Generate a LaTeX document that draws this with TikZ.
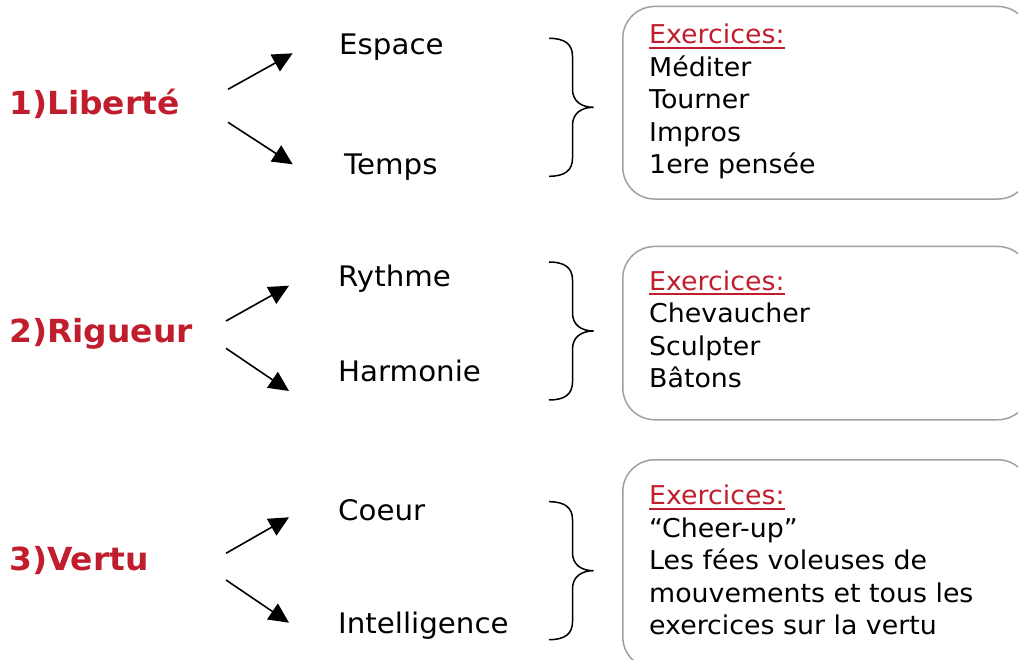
\documentclass[tikz,border=0pt]{standalone}
\usepackage{fontspec}
\setmainfont[FakeStretch=1.035]{DejaVu Sans}
\usetikzlibrary{arrows.meta}
\definecolor{exred}{RGB}{192,30,45}
\definecolor{boxgray}{RGB}{160,160,160}
\newcommand{\exhead}{\rule{0pt}{25pt}\textcolor{exred}{\setbox0\hbox{Exercices:}\rlap{\rule[-5pt]{\wd0}{1.8pt}}\box0}}
\begin{document}
\begin{tikzpicture}[x=1pt,y=-1pt,
  titre/.style={anchor=base west, inner sep=0pt, text=exred, font=\fontsize{31.8}{38}\selectfont\bfseries},
  mot/.style={anchor=base west, inner sep=0pt, font=\fontsize{28.3}{34}\selectfont},
  liste/.style={anchor=north west, inner sep=0pt, align=left, font=\fontsize{25.9}{32.6}\selectfont},
  exbox/.style={draw=boxgray, line width=1.5pt, rounded corners=32pt, anchor=north west, minimum width=407pt, inner sep=0pt},
  fleche/.style={-{Triangle[length=20pt,width=19pt]}, line width=1.6pt},
  accolade/.style={line width=1.5pt}]
\useasboundingbox (0,0) rectangle (1018,660);

\node[titre] (t1) at (9,115){1)Liberté};
\node[titre] (t2) at (9,342.7){2)Rigueur};
\node[titre] (t3) at (9,570){3)Vertu};

\node[mot] (espace) at (339,55){Espace};
\node[mot] (temps) at (344,174.3){Temps};
\node[mot] (rythme) at (338,286.7){Rythme};
\node[mot] (harmonie) at (338,381.7){Harmonie};
\node[mot] (coeur) at (338,520.7){Coeur};
\node[mot] (intel) at (338,633.3){Intelligence};

\coordinate (d1a) at (228,89.3);
\coordinate (f1a) at (292.7,53.3);
\coordinate (d1b) at (228,122.3);
\coordinate (f1b) at (292.7,164.3);
\coordinate (d2a) at (226,321);
\coordinate (f2a) at (289,285.7);
\coordinate (d2b) at (226,348.3);
\coordinate (f2b) at (289,391);
\coordinate (d3a) at (226,553.3);
\coordinate (f3a) at (289,517.3);
\coordinate (d3b) at (226,580);
\coordinate (f3b) at (289,622.7);
\draw[fleche](d1a) -- (f1a);
\draw[fleche](d1b) -- (f1b);
\draw[fleche](d2a) -- (f2a);
\draw[fleche](d2b) -- (f2b);
\draw[fleche](d3a) -- (f3a);
\draw[fleche](d3b) -- (f3b);

\coordinate (a1h) at (549,38.3);
\coordinate (a1b) at (549,176.3);
\coordinate (a2h) at (549,262);
\coordinate (a2b) at (549,400);
\coordinate (a3h) at (549,501.7);
\coordinate (a3b) at (549,639.7);
\draw[accolade](a1h) .. controls +(16,0) and +(0,-12) .. ++(23.5,18) -- ++(0,33) .. controls +(0,12) and +(-12,0) .. ++(21,18) .. controls +(-12,0) and +(0,-12) .. ++(-21,18) -- ++(0,33) .. controls +(0,12) and +(16,0) .. (a1b);
\draw[accolade](a2h) .. controls +(16,0) and +(0,-12) .. ++(23.5,18) -- ++(0,33) .. controls +(0,12) and +(-12,0) .. ++(21,18) .. controls +(-12,0) and +(0,-12) .. ++(-21,18) -- ++(0,33) .. controls +(0,12) and +(16,0) .. (a2b);
\draw[accolade](a3h) .. controls +(16,0) and +(0,-12) .. ++(23.5,18) -- ++(0,33) .. controls +(0,12) and +(-12,0) .. ++(21,18) .. controls +(-12,0) and +(0,-12) .. ++(-21,18) -- ++(0,33) .. controls +(0,12) and +(16,0) .. (a3b);

\node[exbox, minimum height=192.6pt] (box1) at (622,5.7){};
\node[exbox, minimum height=173.3pt] (box2) at (622,245.7){};
\node[exbox, minimum height=209pt] (box3) at (622,459){};

\node[liste] (ex1) at (649,18.4){\exhead\\Méditer\\Tourner\\Impros\\1ere pensée};
\node[liste] (ex2) at (649,265){\exhead\\Chevaucher\\Sculpter\\Bâtons};
\node[liste] (ex3) at (649,479.3){\exhead\\“Cheer-up”\\Les fées voleuses de\\mouvements et tous les\\exercices sur la vertu};

\end{tikzpicture}
\end{document}
